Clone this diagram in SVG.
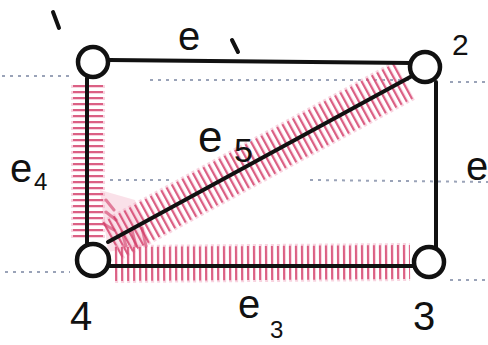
<svg xmlns="http://www.w3.org/2000/svg" width="488" height="345" viewBox="0 0 488 345">
<style>
.rule{stroke:#9aa3b8;stroke-width:2;stroke-dasharray:3 5;fill:none}
.hatch{stroke:#d23a66;stroke-dasharray:2 4;fill:none;opacity:0.75}
.hatch2{stroke:#f2a8c0;stroke-dasharray:3 3;fill:none;opacity:0.5}
.fan{stroke:#d23a66;stroke-width:3;opacity:0.6;stroke-linecap:round}
.edge{stroke:#111;stroke-width:4;fill:none;stroke-linecap:round}
.node{fill:#fff;stroke:#111;stroke-width:4.5}
.lbl{font-family:"Liberation Sans",sans-serif;fill:#111}
</style>
<rect width="488" height="345" fill="#fff"/>
<g id="rules">
<line class="rule" x1="2" y1="76" x2="70" y2="76"/>
<line class="rule" x1="150" y1="80" x2="410" y2="80"/>
<line class="rule" x1="450" y1="82" x2="488" y2="82"/>
<line class="rule" x1="110" y1="180" x2="170" y2="180"/>
<line class="rule" x1="310" y1="180" x2="488" y2="182"/>
<line class="rule" x1="5" y1="272" x2="70" y2="272"/>
<line class="rule" x1="450" y1="280" x2="488" y2="280"/>
</g>
<g id="hatching">
<path d="M100,190 L135,200 L150,244 L108,252 Z" fill="#f2a8c0" opacity="0.35"/>
<line class="hatch2" x1="88" y1="85" x2="88" y2="240" stroke-width="34"/>
<line class="hatch" x1="88" y1="85" x2="88" y2="240" stroke-width="30"/>
<line class="hatch2" x1="112" y1="240" x2="405" y2="80" stroke-width="44"/>
<line class="hatch" x1="112" y1="240" x2="405" y2="80" stroke-width="40"/>
<line class="hatch2" x1="115" y1="264" x2="410" y2="262" stroke-width="38"/>
<line class="hatch" x1="115" y1="264" x2="410" y2="262" stroke-width="34"/>
<line class="fan" x1="106" y1="200" x2="114" y2="210"/>
<line class="fan" x1="106" y1="212" x2="116" y2="220"/>
<line class="fan" x1="104" y1="224" x2="114" y2="230"/>
<line class="fan" x1="122" y1="232" x2="126" y2="246"/>
<line class="fan" x1="132" y1="230" x2="136" y2="246"/>
<line class="fan" x1="142" y1="228" x2="146" y2="246"/>
</g>
<g id="connectors">
<path class="edge" d="M109,60 L412,63"/>
<path class="edge" d="M436,82 L436,248"/>
<path class="edge" d="M110,266 L414,266"/>
<path class="edge" d="M87,78 L87,244"/>
<path class="edge" d="M108,242 L412,76"/>
</g>
<g id="n1"><circle class="node" cx="93" cy="62" r="15"/><path d="M53,12 L59,28" stroke="#111" stroke-width="4" stroke-linecap="round"/></g>
<g id="n2"><circle class="node" cx="425" cy="67" r="15"/><text class="lbl" x="452" y="55" font-size="30">2</text></g>
<g id="n3"><circle class="node" cx="429" cy="262" r="15"/><text class="lbl" x="413" y="330" font-size="40">3</text></g>
<g id="n4"><circle class="node" cx="93" cy="260" r="16"/><text class="lbl" x="70" y="330" font-size="40">4</text></g>
<g id="labels">
<text class="lbl" x="178" y="50" font-size="40">e</text>
<path d="M232,40 L238,52" stroke="#111" stroke-width="4" stroke-linecap="round"/>
<text class="lbl" x="10" y="182" font-size="40">e</text>
<text class="lbl" x="34" y="190" font-size="24">4</text>
<text class="lbl" x="198" y="152" font-size="44">e</text>
<text class="lbl" x="234" y="162" font-size="34">5</text>
<text class="lbl" x="466" y="180" font-size="40">e</text>
<text class="lbl" x="238" y="318" font-size="40">e</text>
<text class="lbl" x="270" y="338" font-size="24">3</text>
</g>
</svg>
